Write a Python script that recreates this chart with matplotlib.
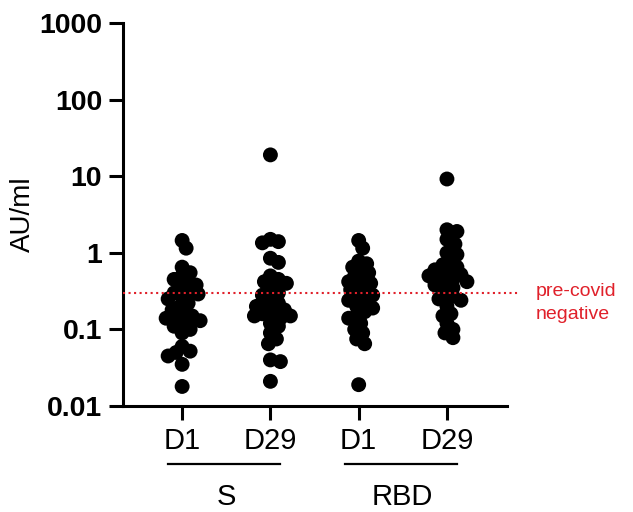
import numpy as np
import matplotlib.pyplot as plt

plt.rcParams['font.family'] = ['Liberation Sans', 'DejaVu Sans']

# data (AU/ml)
tick_labels = ['D1', 'D29', 'D1', 'D29']
antigens = ['S', 'RBD']
s_d1 = [1.45, 1.15, 0.65, 0.55, 0.5, 0.45, 0.42, 0.38, 0.35, 0.32, 0.30, 0.29,
        0.27, 0.25, 0.22, 0.2, 0.18, 0.16, 0.15, 0.14, 0.14, 0.13, 0.12, 0.11,
        0.1, 0.09, 0.06, 0.052, 0.05, 0.045, 0.035, 0.018]
s_d29 = [19, 1.5, 1.4, 1.35, 0.85, 0.75, 0.5, 0.45, 0.42, 0.4, 0.33, 0.3, 0.28,
         0.25, 0.22, 0.2, 0.2, 0.18, 0.17, 0.16, 0.15, 0.15, 0.14, 0.12, 0.11,
         0.09, 0.075, 0.065, 0.04, 0.038, 0.021]
rbd_d1 = [1.45, 1.15, 0.78, 0.72, 0.65, 0.6, 0.55, 0.5, 0.45, 0.42, 0.4, 0.36,
          0.33, 0.3, 0.28, 0.26, 0.24, 0.22, 0.2, 0.19, 0.17, 0.15, 0.14, 0.12,
          0.1, 0.09, 0.075, 0.065, 0.019]
rbd_d29 = [9.2, 2.0, 1.9, 1.5, 1.3, 1.0, 0.95, 0.8, 0.7, 0.65, 0.6, 0.55, 0.52,
           0.5, 0.48, 0.45, 0.42, 0.4, 0.38, 0.35, 0.3, 0.27, 0.25, 0.24, 0.2,
           0.16, 0.15, 0.12, 0.1, 0.09, 0.078]
cutoff = 0.3
yticks = [0.01, 0.1, 1, 10, 100, 1000]
ytick_labels = ['0.01', '0.1', '1', '10', '100', '1000']

red = '#e0202a'

fig = plt.figure(figsize=(6.33, 5.12), dpi=100)
ax = fig.add_axes([0.1943, 0.207, 0.6066, 0.748])
ax.set_yscale('log')
ax.set_ylim(0.01, 1000)
ax.set_xlim(-0.67, 3.68)


def swarm(x0, vals, dia=15.0, mind=0.55, maxoff=24.0):
    # simple beeswarm in pixel space, returns x in data coords
    pts = ax.transData.transform([(x0, v) for v in vals])
    px_per_x = ax.transData.transform([(1, 1)])[0][0] - ax.transData.transform([(0, 1)])[0][0]
    order = np.argsort(pts[:, 1])[::-1]
    placed = []
    xs = np.zeros(len(vals))
    for i in order:
        y = pts[i, 1]
        best, bestd = 0.0, -1
        k = 0
        while True:
            off = (k + 1) // 2 * 2.0 * (1 if k % 2 else -1) if k else 0.0
            if abs(off) > maxoff:
                off = best
                break
            d = min([np.hypot(px - off, py - y) for (px, py) in placed] or [99])
            if d > bestd:
                best, bestd = off, d
            if d >= mind * dia:
                break
            k += 1
        placed.append((off, y))
        xs[i] = x0 + off / px_per_x
    return xs


for i, vals in enumerate([s_d1, s_d29, rbd_d1, rbd_d29]):
    xs = swarm(i, vals)
    ax.scatter(xs, vals, s=115, color='black', edgecolor='none', zorder=3, clip_on=False)

# pre-covid negative cutoff
ax.plot([0, 1.034], [cutoff, cutoff], ':', color=red, lw=1.5, zorder=4,
        transform=ax.get_yaxis_transform(), clip_on=False)
ax.annotate('pre-covid\nnegative', xy=(1.075, cutoff), xytext=(0, -7),
            textcoords='offset points', xycoords=ax.get_yaxis_transform(),
            color=red, fontsize=14, va='center', ha='left', linespacing=1.45)

ax.spines['top'].set_visible(False)
ax.spines['right'].set_visible(False)
ax.spines['left'].set_linewidth(2.2)
ax.spines['bottom'].set_linewidth(2.2)

ax.set_yticks(yticks)
ax.set_yticklabels(ytick_labels, fontsize=20.5, fontweight='bold')
ax.yaxis.set_minor_locator(plt.NullLocator())
ax.set_xticks(range(4))
ax.set_xticklabels(tick_labels, fontsize=21)
ax.tick_params(axis='both', length=10, width=2.2, pad=5)
ax.set_ylabel('AU/ml', fontsize=20, labelpad=2)

# group lines and labels
for j, name in enumerate(antigens):
    x0 = 2 * j
    ax.plot([x0 - 0.16, x0 + 1.11], [-0.151, -0.151], color='black', lw=1.6,
            transform=ax.get_xaxis_transform(), clip_on=False)
    ax.text(x0 + 0.5, -0.237, name, fontsize=21, ha='center', va='center',
            transform=ax.get_xaxis_transform())

fig.savefig('out.png', dpi=100)
